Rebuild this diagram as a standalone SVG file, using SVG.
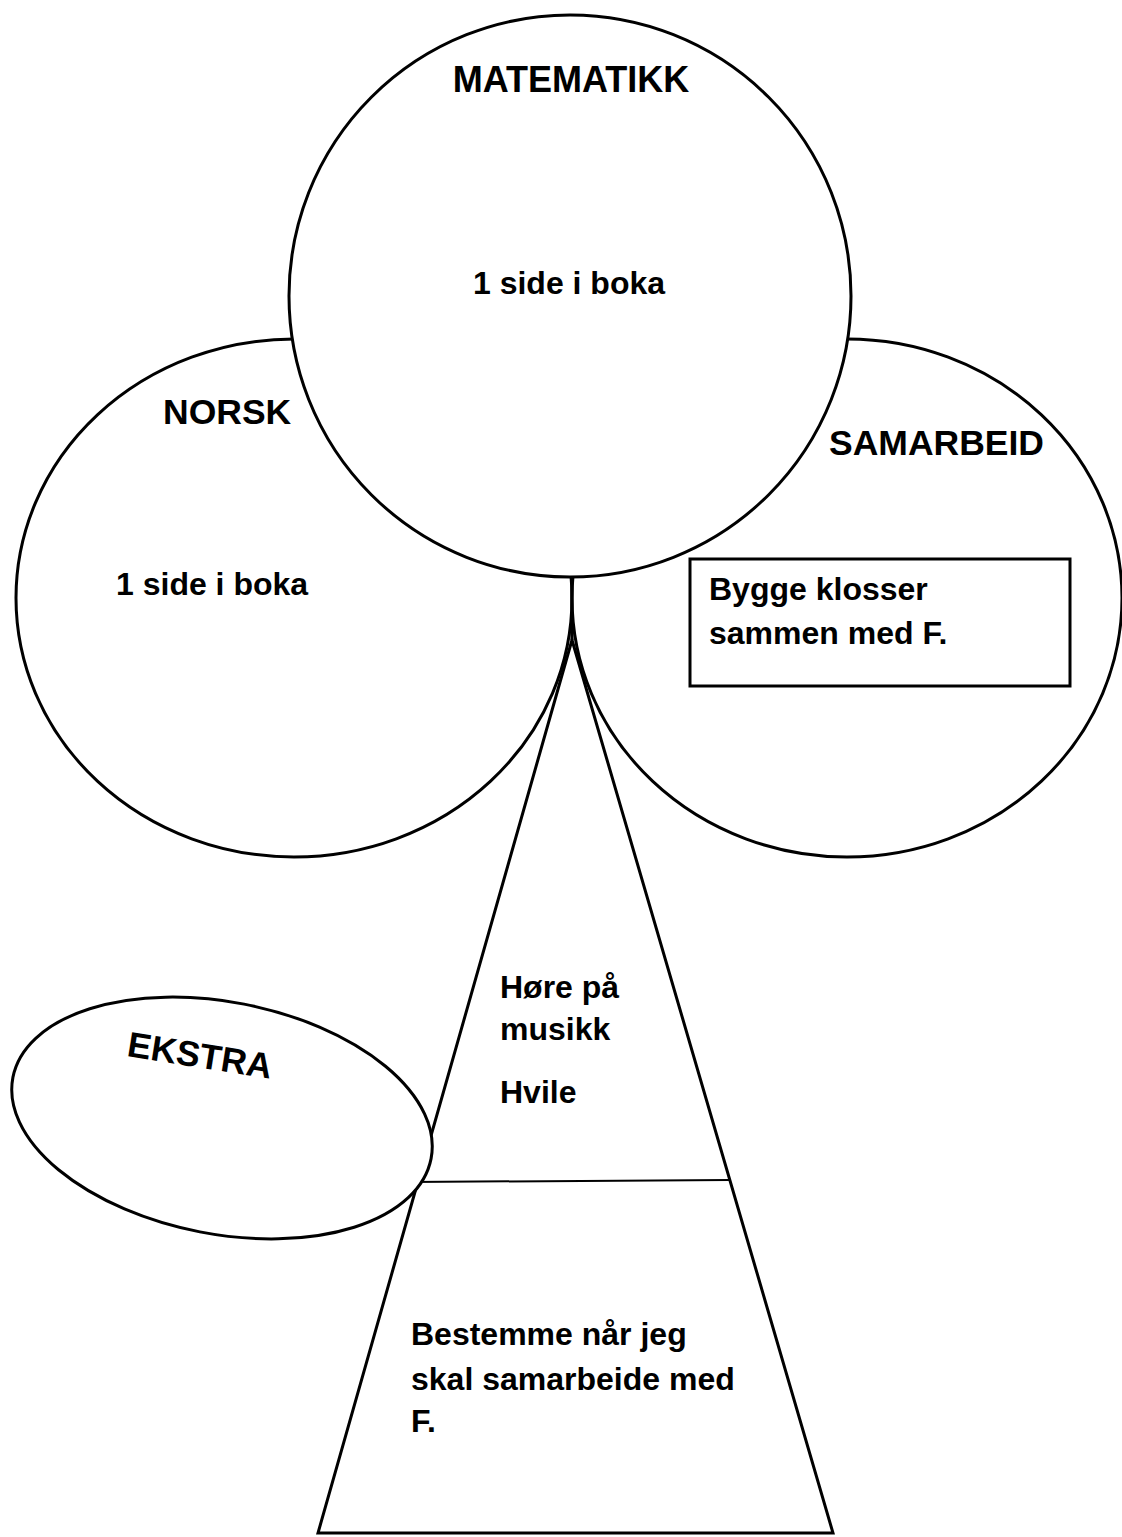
<svg xmlns="http://www.w3.org/2000/svg" width="1122" height="1537" viewBox="0 0 1122 1537">
<style>
.s{fill:#fff;stroke:#000;stroke-width:3}
.l{fill:none;stroke:#000;stroke-width:3}
.t{font-family:"Liberation Sans",Arial,sans-serif;font-weight:bold;fill:#000}
.h{font-size:35.5px}
.b{font-size:32px}
</style>
<rect width="1122" height="1537" fill="#fff"/>
<g id="triangle">
<polygon class="s" points="572,640 318,1533 833,1533"/>
<line x1="410" y1="1182" x2="729" y2="1180" stroke="#000" stroke-width="2"/>
</g>
<g id="norsk">
<ellipse class="s" cx="294" cy="598" rx="278" ry="259"/>
<text class="t h" x="163" y="424">NORSK</text>
<text class="t b" x="116" y="595">1 side i boka</text>
</g>
<g id="samarbeid">
<ellipse class="s" cx="847" cy="598" rx="275" ry="259"/>
<text class="t h" x="829" y="455">SAMARBEID</text>
<rect class="l" x="690" y="559" width="380" height="127"/>
<text class="t b" x="709" y="600">Bygge klosser</text>
<text class="t b" x="709" y="644">sammen med F.</text>
</g>
<g id="matematikk">
<circle class="s" cx="570" cy="296" r="281"/>
<text class="t" font-size="36" x="571" y="92" text-anchor="middle">MATEMATIKK</text>
<text class="t b" x="569" y="294" text-anchor="middle">1 side i boka</text>
</g>
<g id="connectors">
<line class="l" x1="572" y1="577" x2="572" y2="640"/>
</g>
<g id="ekstra">
<ellipse class="s" cx="222" cy="1118" rx="213" ry="116" transform="rotate(11 222 1118)"/>
<text class="t" font-size="35.5" x="126" y="1056" transform="rotate(9 126 1056)">EKSTRA</text>
</g>
<g id="triangle-text">
<text class="t b" x="500" y="998">Høre på</text>
<text class="t b" x="500" y="1040">musikk</text>
<text class="t b" x="500" y="1103">Hvile</text>
<text class="t b" x="411" y="1345">Bestemme når jeg</text>
<text class="t b" x="411" y="1390">skal samarbeide med</text>
<text class="t b" x="411" y="1432">F.</text>
</g>
</svg>
